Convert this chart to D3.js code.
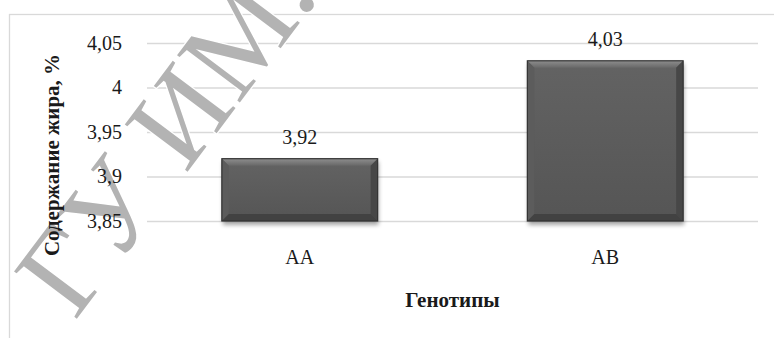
<!DOCTYPE html>
<html><head><meta charset="utf-8">
<script src="https://cdn.jsdelivr.net/npm/d3@7/dist/d3.min.js"></script>
<style>
html,body{margin:0;padding:0;background:#fff;}
svg{display:block;}
</style></head>
<body>
<svg id="chart" width="774" height="338"></svg>
<script>
const categories = ["AA", "AB"];
const values = [3.92, 4.03];
const yTicks = [3.85, 3.9, 3.95, 4, 4.05];
const yTitle = "Содержание жира, %";
const xTitle = "Генотипы";
const watermark = "ГУ ИМ.";

const FONT = "'Liberation Serif'";
const fmt = v => String(v).replace(".", ",");
const svg = d3.select("#chart");
const W = 774, H = 338;
const pLeft = 147, pRight = 758, pTop = 43, pBottom = 221;

const y = d3.scaleLinear().domain([3.85, 4.05]).range([pBottom, pTop]);
const x = d3.scaleBand().domain(categories).range([pLeft, pRight]).paddingInner(0.49).paddingOuter(0.245);

const defs = svg.append("defs");
const gTop = defs.append("linearGradient").attr("id","gTop").attr("x1",0).attr("y1",0).attr("x2",0).attr("y2",1);
gTop.append("stop").attr("offset","0%").attr("stop-color","#8e8e8e");
gTop.append("stop").attr("offset","100%").attr("stop-color","#686868");
const gMid = defs.append("linearGradient").attr("id","gMid").attr("x1",0).attr("y1",0).attr("x2",0).attr("y2",1);
gMid.append("stop").attr("offset","0%").attr("stop-color","#636363");
gMid.append("stop").attr("offset","100%").attr("stop-color","#555555");
const f = defs.append("filter").attr("id","shadow").attr("x","-10%").attr("y","-10%").attr("width","120%").attr("height","130%");
f.append("feGaussianBlur").attr("stdDeviation",2);

// frame
svg.append("rect").attr("x",9.5).attr("y",14.5).attr("width",W+20).attr("height",H+20)
  .attr("fill","none").attr("stroke","#d9d9d9").attr("stroke-width",1.3);

// grid lines
const grid = svg.append("g").attr("transform",`translate(${pLeft},0)`)
  .call(d3.axisLeft(y).tickValues(yTicks).tickSize(-(pRight-pLeft)).tickFormat(""));
grid.select(".domain").remove();
grid.selectAll(".tick line").attr("stroke","#d9d9d9").attr("stroke-width",1.6);

// watermark
svg.append("g").attr("transform","translate(320,-4) rotate(-53)")
  .append("text").attr("text-anchor","end").style("font-family",FONT).style("font-size","120px")
  .attr("fill","#b3b3b3").attr("stroke","#fff").attr("stroke-width",2.5).attr("paint-order","stroke")
  .text(watermark);

// y tick labels
const yAxis = svg.append("g").attr("transform",`translate(${pLeft},0)`)
  .call(d3.axisLeft(y).tickValues(yTicks).tickSize(0).tickPadding(25).tickFormat(fmt));
yAxis.select(".domain").remove();
yAxis.attr("font-family", null).attr("font-size", null);
yAxis.selectAll(".tick text").style("font-size","20px").attr("fill","#1a1a1a").style("font-family",FONT);

// bars
const b = 7;
categories.forEach((c, i) => {
  const x0 = x(c), x1 = x(c) + x.bandwidth(), y0 = y(values[i]), y1 = y(3.85);
  const g = svg.append("g");
  g.append("rect").attr("x",x0+1).attr("y",y0+3).attr("width",x1-x0).attr("height",y1-y0+1)
    .attr("fill","#000").attr("opacity",0.35).attr("filter","url(#shadow)");
  g.append("rect").attr("x",x0).attr("y",y0).attr("width",x1-x0).attr("height",y1-y0).attr("fill","url(#gMid)");
  const poly = (pts, fill) => g.append("polygon").attr("points", pts.map(p=>p.join(",")).join(" ")).attr("fill",fill);
  poly([[x0,y0],[x1,y0],[x1-b,y0+b],[x0+b,y0+b]], "url(#gTop)");
  poly([[x0,y0],[x0+b,y0+b],[x0+b,y1-b],[x0,y1]], "#5c5c5c");
  poly([[x1,y0],[x1,y1],[x1-b,y1-b],[x1-b,y0+b]], "#474747");
  poly([[x0,y1],[x0+b,y1-b],[x1-b,y1-b],[x1,y1]], "#424242");
  g.append("rect").attr("x",x0).attr("y",y0).attr("width",x1-x0).attr("height",y1-y0)
    .attr("fill","none").attr("stroke","#333").attr("stroke-width",1.2);
  svg.append("text").attr("x",x0+(x1-x0)/2).attr("y",y0-15).attr("text-anchor","middle")
    .style("font-size","20px").style("font-family",FONT).attr("fill","#1a1a1a").text(fmt(values[i]));
});

// x axis
const xAxis = svg.append("g").attr("transform",`translate(0,${pBottom})`)
  .call(d3.axisBottom(x).tickSize(0).tickPadding(29));
xAxis.select(".domain").remove();
xAxis.attr("font-family", null).attr("font-size", null);
xAxis.selectAll(".tick text").style("font-size","20px").attr("fill","#1a1a1a").style("font-family",FONT);

// titles
svg.append("text").attr("x",(pLeft+pRight)/2).attr("y",307).attr("text-anchor","middle")
  .style("font-size","21px").style("font-family",FONT).style("font-weight","bold").attr("fill","#1a1a1a").text(xTitle);
svg.append("text").attr("transform","translate(59,155) rotate(-90)").attr("text-anchor","middle")
  .style("font-size","21px").style("font-family",FONT).style("font-weight","bold").attr("fill","#1a1a1a").text(yTitle);
</script>
</body></html>
